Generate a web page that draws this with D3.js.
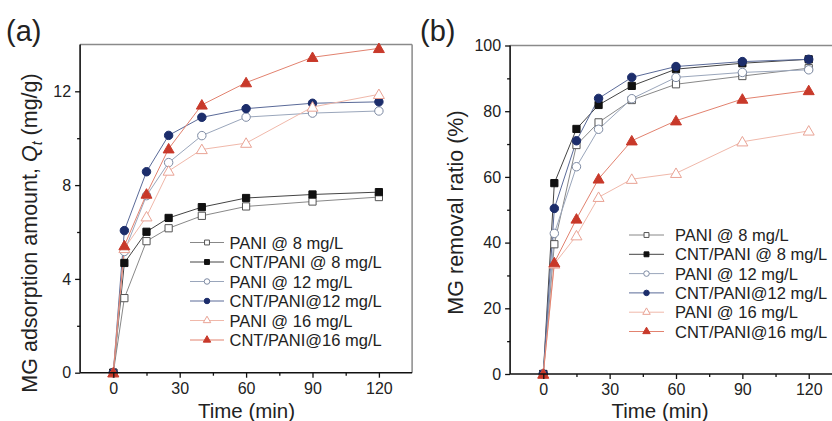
<!DOCTYPE html>
<html><head><meta charset="utf-8">
<script src="https://cdn.jsdelivr.net/npm/d3@7"></script>
<style>body{margin:0;background:#fff}svg{display:block;font-family:"Liberation Sans",Arial,sans-serif}</style>
</head><body><svg id="c" width="832" height="421"></svg>
<script>
// ---- data ----
const times = [0, 5, 15, 25, 40, 60, 90, 120];
const seriesNames = ["PANI @ 8 mg/L", "CNT/PANI @ 8 mg/L", "PANI @ 12 mg/L", "CNT/PANI@12 mg/L", "PANI @ 16 mg/L", "CNT/PANI@16 mg/L"];
// panel (a): adsorption amount Qt (mg/g)
const pani8A  = [0, 3.18, 5.61, 6.16, 6.69, 7.09, 7.30, 7.49];
const cnt8A   = [0, 4.68, 6.01, 6.60, 7.06, 7.45, 7.60, 7.70];
const pani12A = [0, 5.17, 7.55, 8.96, 10.11, 10.90, 11.07, 11.16];
const cnt12A  = [0, 6.06, 8.57, 10.12, 10.89, 11.26, 11.49, 11.55];
const pani16A = [0, 5.30, 6.65, 8.60, 9.52, 9.79, 11.33, 11.87];
const cnt16A  = [0, 5.42, 7.62, 9.55, 11.42, 12.37, 13.45, 13.83];
// panel (b): removal ratio (%)
const pani8B  = [0, 39.5, 69.7, 76.6, 83.4, 88.2, 90.7, 93.1];
const cnt8B   = [0, 58.1, 74.6, 81.9, 87.7, 92.8, 94.6, 95.8];
const pani12B = [0, 42.8, 63.1, 74.5, 83.8, 90.3, 91.8, 92.6];
const cnt12B  = [0, 50.4, 71.0, 83.9, 90.3, 93.6, 95.1, 95.8];
const pani16B = [0, 33.5, 42.1, 53.8, 59.3, 61.1, 70.7, 74.0];
const cnt16B  = [0, 33.9, 47.2, 59.4, 71.0, 77.1, 83.7, 86.3];
const xTicks = [0, 30, 60, 90, 120];
const xMinor = [15, 45, 75, 105];
const yTicksA = [0, 4, 8, 12];
const yMinorA = [2, 6, 10];
const yTicksB = [0, 20, 40, 60, 80, 100];
const yMinorB = [10, 30, 50, 70, 90];

// ---- styles ----
const styles = [
  {shape: "square",   fill: "#fff",    stroke: "#555",    line: "#888"},
  {shape: "square",   fill: "#111",    stroke: "#111",    line: "#444"},
  {shape: "circle",   fill: "#fff",    stroke: "#7d8aa3", line: "#9aa6bb"},
  {shape: "circle",   fill: "#1c2d6b", stroke: "#1c2d6b", line: "#5a6a98"},
  {shape: "triangle", fill: "#fff",    stroke: "#e9a395", line: "#f0b8aa"},
  {shape: "triangle", fill: "#c8392a", stroke: "#c8392a", line: "#e2826f"}
];
const symType = {square: d3.symbolSquare, circle: d3.symbolCircle, triangle: d3.symbolTriangle};

const svg = d3.select("#c");
svg.append("rect").attr("width", 832).attr("height", 421).attr("fill", "#fff");

function panel(opt) {
  const {x0, x1, yBottom, yTop, yDomain, data, yTicks, yMinor, letter, ylabel, legend, xLabelX, yLabelX, yLabelY, clipW} = opt;
  const x = d3.scaleLinear().domain([-15, 135]).range([x0, x1]);
  const y = d3.scaleLinear().domain(yDomain).range([yBottom, yTop]);
  const g = svg.append("g");
  // frame top/right
  g.append("line").attr("x1", x0).attr("x2", Math.min(x1, 832)).attr("y1", yTop).attr("y2", yTop).attr("stroke", "#8a8a8a").attr("stroke-width", 1.5);
  if (x1 < 832) g.append("line").attr("x1", x1).attr("x2", x1).attr("y1", yTop).attr("y2", yBottom).attr("stroke", "#8a8a8a").attr("stroke-width", 1.5);

  // series lines and markers
  const line = d3.line().x((d, i) => x(times[i])).y(d => y(d));
  data.forEach((vals, k) => {
    const s = styles[k];
    g.append("path").attr("d", line(vals)).attr("fill", "none").attr("stroke", s.line).attr("stroke-width", 1);
  });
  data.forEach((vals, k) => {
    const s = styles[k];
    const size = s.shape === "triangle" ? 52 : (s.shape === "circle" ? 56 : 52);
    g.selectAll(null).data(vals).enter().append("path")
      .attr("d", d3.symbol().type(symType[s.shape]).size(size))
      .attr("transform", (d, i) => `translate(${x(times[i])},${y(d) + (s.shape === "triangle" ? 1 : 0)})`)
      .attr("fill", s.fill).attr("stroke", s.stroke).attr("stroke-width", 1);
  });

  // axes
  const ax = g.append("g").attr("transform", `translate(0,${yBottom})`)
    .call(d3.axisBottom(x).tickValues(xTicks).tickSize(5).tickPadding(5).tickFormat(d3.format("d")));
  g.append("g").attr("transform", `translate(0,${yBottom})`)
    .call(d3.axisBottom(x).tickValues(xMinor).tickSize(3).tickFormat(""))
    .call(a => a.select(".domain").remove());
  const ay = g.append("g").attr("transform", `translate(${x0},0)`)
    .call(d3.axisLeft(y).tickValues(yTicks).tickSize(5).tickPadding(4).tickFormat(d3.format("d")));
  g.append("g").attr("transform", `translate(${x0},0)`)
    .call(d3.axisLeft(y).tickValues(yMinor).tickSize(3).tickFormat(""))
    .call(a => a.select(".domain").remove());
  g.selectAll(".domain").attr("stroke", "#111").attr("stroke-width", 1.6);
  g.selectAll(".tick line").attr("stroke", "#111").attr("stroke-width", 1.3);
  g.selectAll(".tick text").attr("font-size", 16).attr("fill", "#222").attr("font-family", "Liberation Sans, Arial, sans-serif");
  ax.select(".domain").attr("d", `M${x0},0H${Math.min(x1, 832)}`);
  ay.select(".domain").attr("d", `M0,${yBottom}V${yTop}`);

  // labels
  svg.append("text").attr("x", opt.letterX).attr("y", 41).attr("font-size", 29).attr("fill", "#222").text(letter);
  svg.append("text").attr("x", xLabelX).attr("y", 418).attr("text-anchor", "middle").attr("font-size", 20.5).attr("fill", "#222").text("Time (min)");
  const yl = svg.append("text").attr("transform", `translate(${yLabelX},${yLabelY}) rotate(-90)`)
    .attr("text-anchor", "middle").attr("font-size", 21.5).attr("fill", "#222");
  ylabel(yl);

  // legend
  const {lx, ly, dy, l1, l2, tx} = legend;
  seriesNames.forEach((name, k) => {
    const s = styles[k];
    const yy = ly + k * dy;
    svg.append("line").attr("x1", l1).attr("x2", l2).attr("y1", yy).attr("y2", yy).attr("stroke", s.line).attr("stroke-width", 1);
    svg.append("path").attr("d", d3.symbol().type(symType[s.shape]).size(24))
      .attr("transform", `translate(${lx},${yy})`).attr("fill", s.fill).attr("stroke", s.stroke).attr("stroke-width", 1);
    svg.append("text").attr("x", tx).attr("y", yy + 6).attr("font-size", 16.5).attr("fill", "#222").text(name);
  });
}

panel({
  x0: 80.1, x1: 412.1, yBottom: 372.7, yTop: 44.4, yDomain: [0, 14],
  data: [pani8A, cnt8A, pani12A, cnt12A, pani16A, cnt16A],
  yTicks: yTicksA, yMinor: yMinorA, letter: "(a)", letterX: 6,
  xLabelX: 246.5, yLabelX: 37, yLabelY: 233,
  ylabel: t => {
    t.append("tspan").text("MG adsorption amount, ");
    t.append("tspan").attr("font-style", "italic").text("Q");
    t.append("tspan").attr("font-style", "italic").attr("font-size", 14).attr("dy", 5).text("t");
    t.append("tspan").attr("dy", -5).text(" (mg/g)");
  },
  legend: {lx: 207, ly: 242.5, dy: 19.5, l1: 190, l2: 224, tx: 229.5}
});

panel({
  x0: 510.1, x1: 841.9, yBottom: 374, yTop: 45.5, yDomain: [0, 100],
  data: [pani8B, cnt8B, pani12B, cnt12B, pani16B, cnt16B],
  yTicks: yTicksB, yMinor: yMinorB, letter: "(b)", letterX: 420,
  xLabelX: 660, yLabelX: 463, yLabelY: 212.5,
  ylabel: t => t.text("MG removal ratio (%)"),
  legend: {lx: 646.5, ly: 235, dy: 19.3, l1: 629, l2: 664, tx: 675}
});
</script></body></html>
